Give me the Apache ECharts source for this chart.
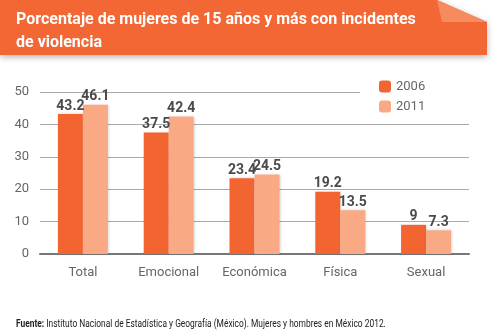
<!DOCTYPE html>
<html><head><meta charset="utf-8">
<script src="https://cdn.jsdelivr.net/npm/echarts@6/dist/echarts.min.js"></script>
<style>html,body{margin:0;padding:0;background:#fff}#c{width:500px;height:336px}</style>
</head><body><div id="c"></div>
<script>
const categories = ['Total', 'Emocional', 'Económica', 'Física', 'Sexual'];
const values2006 = [43.2, 37.5, 23.4, 19.2, 9];
const values2011 = [46.1, 42.4, 24.5, 13.5, 7.3];
const seriesNames = ['2006', '2011'];
const titleText = 'Porcentaje de mujeres de 15 años y más con incidentes\nde violencia';
const sourceBold = 'Fuente:';
const sourceText = ' Instituto Nacional de Estadística y Geografía (México). Mujeres y hombres en México 2012.';

const c1 = '#f26430', c2 = '#f9a983';
const chart = echarts.init(document.getElementById('c'), null, {renderer: 'canvas'});
const labelStyle = {show: true, position: 'top', distance: 1, color: '#4a4a4a', fontWeight: 'bold', fontSize: 14, fontFamily: 'Roboto'};
const shadow = {shadowColor: 'rgba(0,0,0,0.18)', shadowBlur: 3, shadowOffsetX: 1, shadowOffsetY: 0};
chart.setOption({
  animation: false,
  graphic: [
    {type: 'polygon', z: 0, shape: {points: [[0,0],[437,0],[487,22],[487,55],[0,55]]},
     style: {fill: '#f26733', shadowColor: 'rgba(0,0,0,0.3)', shadowBlur: 6, shadowOffsetY: 2}},
    {type: 'polygon', z: 1, shape: {points: [[437,0],[442,22],[487,22]]}, style: {fill: '#f68b5e'}},
    {type: 'text', z: 5, x: 16, y: 319, scaleX: 0.84, scaleY: 1,
     style: {text: '{b|' + sourceBold + '}{r|' + sourceText + '}',
       rich: {b: {fontWeight: 'bold', fontSize: 10, fill: '#222', fontFamily: 'Roboto'},
              r: {fontWeight: 'normal', fontSize: 10, fill: '#222', fontFamily: 'Roboto'}}}}
  ],
  title: [
    {text: titleText, left: 11, top: 3, textStyle: {color: '#fff', fontSize: 16, fontWeight: 'bold', fontFamily: 'Roboto', lineHeight: 23}, z: 5}
  ],
  legend: {
    data: seriesNames, orient: 'vertical', left: 360, top: 80, padding: [0, 45, 0, 19],
    backgroundColor: '#fff', itemWidth: 12, itemHeight: 12, itemGap: 7,
    textStyle: {color: '#666', fontSize: 13, fontFamily: 'Roboto'}, z: 10
  },
  grid: {left: 40, right: 31, top: 92, bottom: 82, containLabel: false},
  xAxis: {
    type: 'category', data: categories,
    axisLine: {lineStyle: {color: '#777', width: 2}}, axisTick: {show: false},
    axisLabel: {color: '#666', fontSize: 13, fontFamily: 'Roboto', margin: 12}
  },
  yAxis: {
    type: 'value', min: 0, max: 50, interval: 10,
    axisLine: {show: false}, axisTick: {show: false},
    axisLabel: {color: '#666', fontSize: 13, fontFamily: 'Roboto', margin: 11},
    splitLine: {lineStyle: {color: '#aaa', width: 1}}
  },
  series: [
    {name: seriesNames[0], type: 'bar', data: values2006, barWidth: 25, barGap: '0%', itemStyle: Object.assign({color: c1}, shadow), label: labelStyle},
    {name: seriesNames[1], type: 'bar', data: values2011, barWidth: 25, barGap: '0%', itemStyle: Object.assign({color: c2}, shadow), label: labelStyle}
  ]
});
</script></body></html>
